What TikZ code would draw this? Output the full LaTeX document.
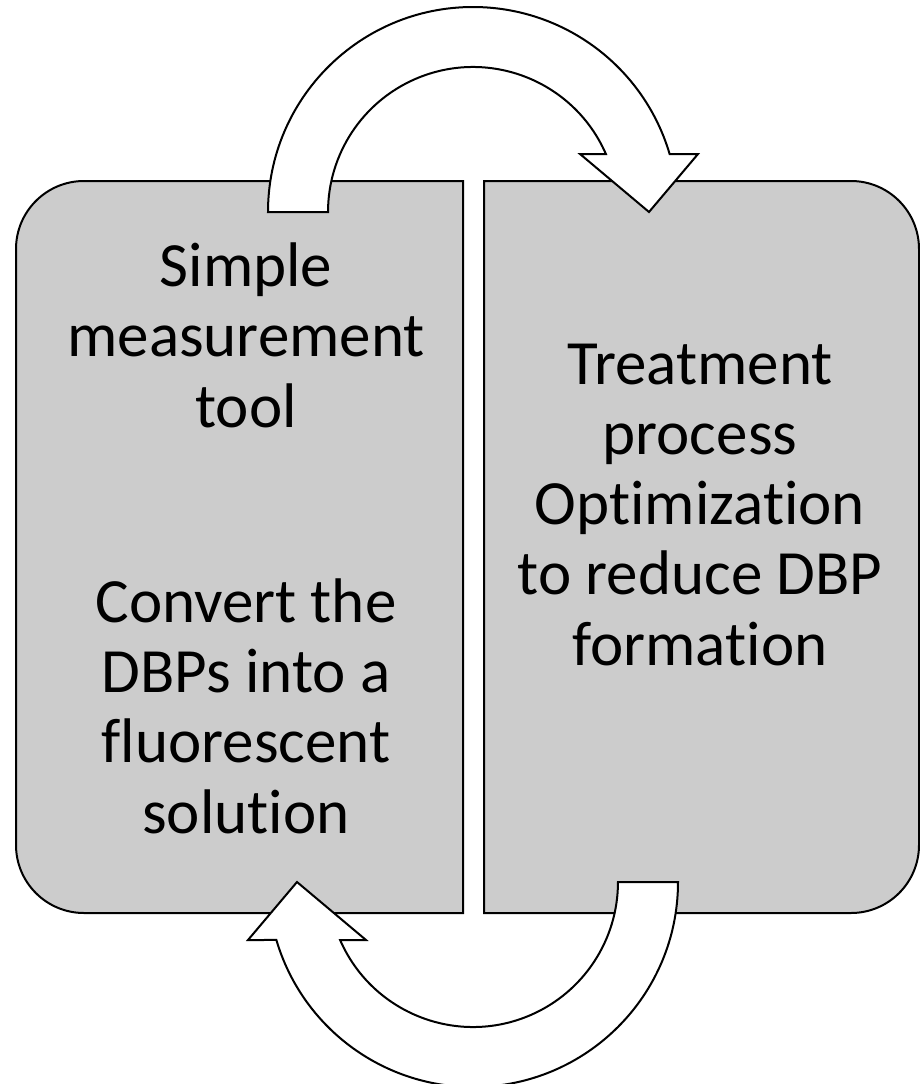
\documentclass[tikz,border=0pt]{standalone}
\usepackage{fontspec}
\setmainfont{Carlito}[Ligatures=CommonOff]
\definecolor{panelgray}{RGB}{204,204,204}
\tikzset{
  panel/.style={draw=black, line width=2pt, fill=panelgray},
  bentarrow/.style={draw=black, line width=2pt, fill=white},
  % base anchor of these multi-line labels sits on the last line
  label/.style={anchor=base, align=center, inner sep=0pt,
    font=\fontsize{63}{70.2}\selectfont}
}
\begin{document}
\begin{tikzpicture}[x=1pt, y=-1pt]
\useasboundingbox (0,0) rectangle (920,1084);

% left panel: rounded on the outer (left) side
\path[panel] (463,181) -- (84,181)
  arc[start angle=-90, end angle=-180, radius=68] -- (16,845)
  arc[start angle=180, end angle=90, radius=68] -- (463,913) -- cycle;

% right panel: rounded on the outer (right) side
\path[panel] (484,181) -- (851,181)
  arc[start angle=-90, end angle=0, radius=68] -- (919,845)
  arc[start angle=0, end angle=90, radius=68] -- (484,913) -- cycle;

% curved arrow over the top, from the left panel to the right one
\path[bentarrow] (268,212)
  arc[start angle=180, end angle=343.57, radius=205]
  -- (698,154) -- (649,212) -- (580,154) -- (605.9,154)
  arc[start angle=-23.58, end angle=-180, radius=145] -- cycle;

% the same arrow turned half round, under the panels
\path[bentarrow, rotate around={180:(473,547)}] (268,212)
  arc[start angle=180, end angle=343.57, radius=205]
  -- (698,154) -- (649,212) -- (580,154) -- (605.9,154)
  arc[start angle=-23.58, end angle=-180, radius=145] -- cycle;

\node[label] (tool) at (246,427) {Simple\\measurement\\tool};
\node[label] (convert) at (246,833) {Convert the\\DBPs into a\\fluorescent\\solution};
\node[label] (treat) at (700,665) {Treatment\\process\\Optimization\\to reduce DBP\\formation};
\end{tikzpicture}
\end{document}
